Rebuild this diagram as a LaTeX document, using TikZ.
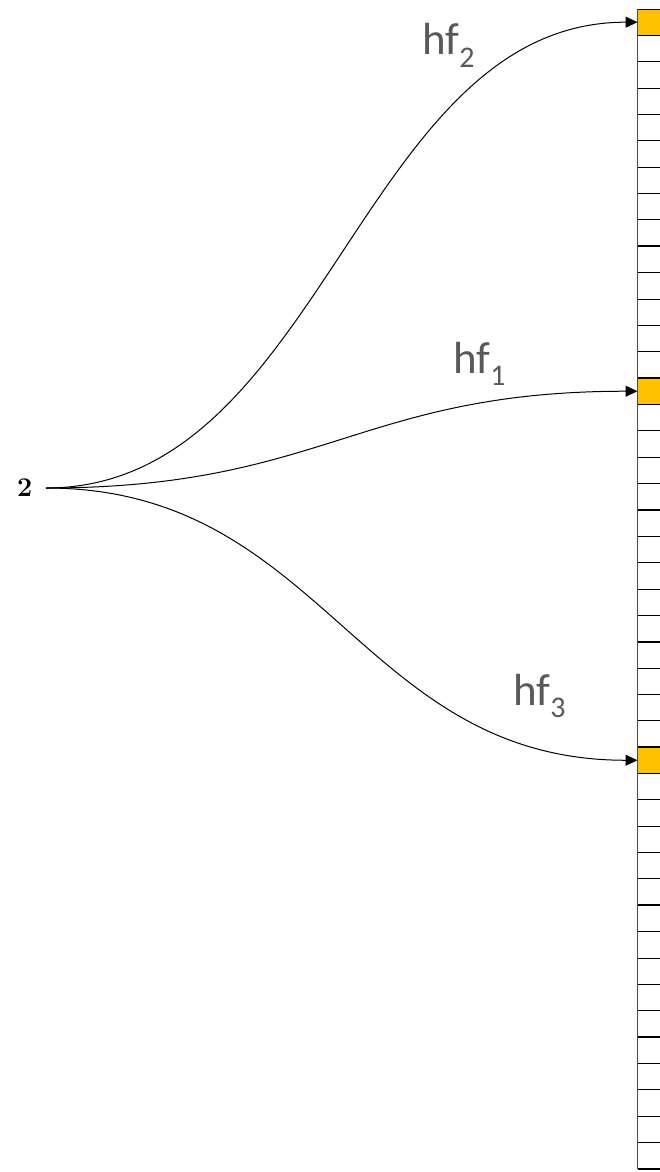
\documentclass[tikz,border=0pt]{standalone}
\usepackage{fontspec}
\usetikzlibrary{arrows.meta}
\newfontfamily\labelfont{Carlito}
\definecolor{slot}{HTML}{FFC000}
\definecolor{labelgray}{HTML}{595959}
\newcommand{\hashlbl}[1]{hf\raisebox{-0.27em}{\fontsize{30}{30}\selectfont #1}}

\begin{document}
\begin{tikzpicture}[x=1pt,y=-1pt,
  cell/.style={draw,line width=0.8pt,minimum width=40pt,minimum height=26.36pt,inner sep=0pt,outer sep=0pt,anchor=north west},
  hit/.style={cell,fill=slot},
  lbl/.style={anchor=base west,inner sep=0pt,text=labelgray,font=\labelfont\fontsize{45}{45}\selectfont},
  arr/.style={-{Triangle[length=12pt,width=11pt]},line width=1pt}]
\useasboundingbox (0,0) rectangle (659,1172);
\foreach \i in {0,...,43}
  \node[cell] (c\i) at (637.5,{9+\i*26.36}) {};
\node[hit] (slotB) at (c0.north west) {};
\node[hit] (slotA) at (c14.north west) {};
\node[hit] (slotC) at (c28.north west) {};
\foreach \i in {4,9,...,39,28}
  \draw[line width=1.8pt] (c\i.north west) -- (c\i.north east);
\draw[line width=1.8pt] (c43.south west) -- (c43.south east);
\draw[line width=1.5pt,black!70] (c0.north west) -- (c43.south west);
\node[anchor=east,inner sep=0pt,font=\bfseries\fontsize{27}{27}\selectfont] (src) at (32.5,488) {2};
\node[lbl] (lblB) at (422,55) {\hashlbl{2}};
\node[lbl] (lblA) at (453,373) {\hashlbl{1}};
\node[lbl] (lblC) at (513,705) {\hashlbl{3}};
\draw[arr] ([xshift=13.5pt]src.east) .. controls +(278,0) and +(-278,0) .. (slotB.west);
\draw[arr] ([xshift=13.5pt]src.east) .. controls +(278,0) and +(-278,0) .. (slotA.west);
\draw[arr] ([xshift=13.5pt]src.east) .. controls +(278,0) and +(-278,0) .. (slotC.west);
\end{tikzpicture}
\end{document}
